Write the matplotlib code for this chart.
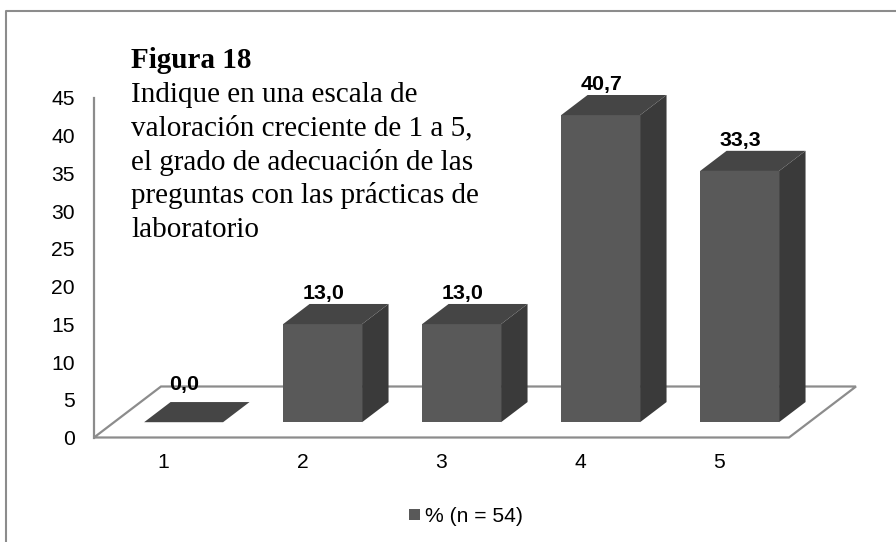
import matplotlib
matplotlib.use("Agg")
import matplotlib.pyplot as plt
from matplotlib.lines import Line2D
from matplotlib.patches import Polygon, Rectangle

# survey results
categories = ["1", "2", "3", "4", "5"]
values = [0.0, 13.0, 13.0, 40.7, 33.3]
value_labels = ["0,0", "13,0", "13,0", "40,7", "33,3"]
y_ticks = [0, 5, 10, 15, 20, 25, 30, 35, 40, 45]
legend_label = "% (n = 54)"
title = "Figura 18"
question = ["Indique en una escala de",
            "valoración creciente de 1 a 5,",
            "el grado de adecuación de las",
            "preguntas con las prácticas de",
            "laboratorio"]

W, H = 896, 542
FRONT = "#595959"
TOP = "#454545"
SIDE = "#3a3a3a"
AXIS = "#8c8c8c"
BAR_W = 0.568
# oblique depth of the floor, in data units
DX = 0.482
DY = 6.76
D0, D1 = 0.3, 0.695


def proj(x, y, d):
    return (x + d * DX, y + d * DY)


fig = plt.figure(figsize=(W / 100, H / 100), dpi=100)

# chart border, only top and left are on the canvas
fig.add_artist(Line2D([5.7 / W, 5.7 / W, 1], [0, 1 - 11 / H, 1 - 11 / H],
                      transform=fig.transFigure, color=AXIS, linewidth=1.5))

ax = fig.add_axes([94 / W, 1 - 437.5 / H, 695 / W, 339.5 / H])
ax.set_xlim(0.5, 5.5)
ax.set_ylim(0, 45)
ax.patch.set_visible(False)
for s in ["top", "right", "bottom"]:
    ax.spines[s].set_visible(False)
ax.spines["left"].set_color(AXIS)
ax.spines["left"].set_linewidth(1.6)
ax.set_xticks(range(1, 6))
ax.set_xticklabels(categories)
ax.set_yticks(y_ticks)
ax.tick_params(length=0, labelsize=15.2, labelcolor="black")
ax.tick_params(axis="y", pad=13.7)
ax.tick_params(axis="x", pad=11.5)
for lab in ax.get_xticklabels() + ax.get_yticklabels():
    lab.set_family("Liberation Sans")

# floor
floor = [proj(0.5, 0, 0), proj(5.5, 0, 0), proj(5.5, 0, 1), proj(0.5, 0, 1)]
ax.add_patch(Polygon(floor, closed=True, facecolor="white", edgecolor=AXIS,
                     linewidth=1.6, clip_on=False, zorder=1))

for i, v in enumerate(values):
    x0 = i + 1 - BAR_W / 2
    x1 = i + 1 + BAR_W / 2
    front = [proj(x0, 0, D0), proj(x1, 0, D0), proj(x1, v, D0), proj(x0, v, D0)]
    side = [proj(x1, 0, D0), proj(x1, 0, D1), proj(x1, v, D1), proj(x1, v, D0)]
    top = [proj(x0, v, D0), proj(x1, v, D0), proj(x1, v, D1), proj(x0, v, D1)]
    for pts, c in [(side, SIDE), (front, FRONT), (top, TOP)]:
        ax.add_patch(Polygon(pts, closed=True, facecolor=c, edgecolor="none",
                             clip_on=False, zorder=2))
    lx, ly = proj(i + 1, v, D1)
    # the empty category gets its label lifted off the flat bar
    lift = 1.55 if v == 0 else 0.6
    ax.text(lx - 0.185, ly + lift, value_labels[i], ha="center", va="baseline",
            family="Liberation Sans", fontweight="bold", fontsize=15.4,
            color="black", zorder=4)

# text box over the plot
fig.text(131 / W, 1 - 68.5 / H, title, family="Liberation Serif",
         fontweight="bold", fontsize=21, va="baseline")
for k, line in enumerate(question):
    fig.text(131 / W, 1 - (102 + k * 33.8) / H, line, family="Liberation Serif",
             fontsize=21, va="baseline")

# legend
fig.add_artist(Rectangle((409 / W, 1 - 520.3 / H), 11 / W, 11 / H,
                         transform=fig.transFigure, facecolor=FRONT,
                         edgecolor="none"))
fig.text(425 / W, 1 - 522 / H, legend_label, family="Liberation Sans",
         fontsize=15.2, va="baseline")

fig.savefig("out.png", dpi=100)
